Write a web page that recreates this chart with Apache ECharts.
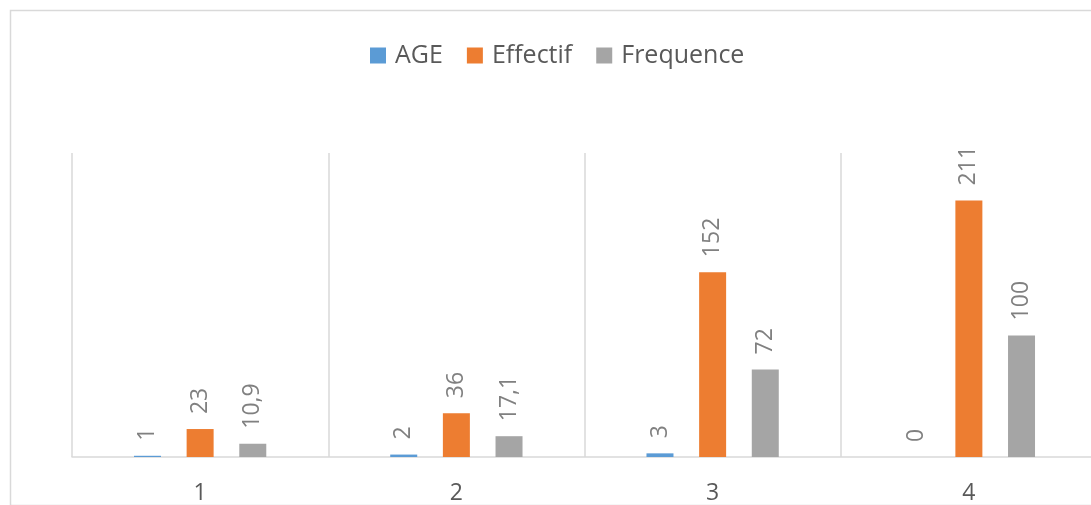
<!DOCTYPE html>
<html>
<head>
<meta charset="utf-8">
<script src="https://cdn.jsdelivr.net/npm/echarts@6/dist/echarts.min.js"></script>
<style>
  html, body { margin: 0; padding: 0; background: #ffffff; }
  #chart { width: 1091px; height: 505px; }
</style>
</head>
<body>
<div id="chart"></div>
<script>
// Categories and series values
const categories = ['1', '2', '3', '4'];
const ageValues = [1, 2, 3, 0];
const effectifValues = [23, 36, 152, 211];
const frequenceValues = [10.9, 17.1, 72, 100];

const FONT = '"Open Sans", "Noto Sans", sans-serif';

// Values are shown with a decimal comma
const fmt = p => String(p.value).replace('.', ',');

const barLabel = {
  show: true,
  position: 'top',
  rotate: 90,
  align: 'left',
  verticalAlign: 'middle',
  distance: 15,
  color: '#808080',
  fontFamily: FONT,
  fontSize: 23,
  formatter: fmt
};

function makeSeries(name, data, color) {
  return {
    name: name,
    type: 'bar',
    data: data,
    barWidth: 27,
    barGap: '95%',
    itemStyle: { color: color },
    label: barLabel,
    emphasis: { disabled: true }
  };
}

const chart = echarts.init(document.getElementById('chart'), null, { renderer: 'canvas' });

chart.setOption({
  animation: false,
  backgroundColor: '#ffffff',
  graphic: [{
    type: 'rect',
    left: 8,
    top: 8,
    shape: { width: 1200, height: 495 },
    style: { fill: 'none', stroke: '#d9d9d9', lineWidth: 1.5 },
    silent: true,
    z: -1
  }],
  legend: {
    top: 38,
    left: 365,
    itemWidth: 16,
    itemHeight: 16,
    itemGap: 24,
    icon: 'rect',
    textStyle: { color: '#595959', fontFamily: FONT, fontSize: 25, padding: [0, 0, 0, 4] },
    data: ['AGE', 'Effectif', 'Frequence']
  },
  // the plot runs a little past the right edge of the canvas
  grid: {
    left: 72, width: 1025, top: 153, bottom: 48,
    containLabel: false,
    outerBoundsMode: 'none'
  },
  xAxis: {
    type: 'category',
    data: categories,
    axisLine: { lineStyle: { color: '#d9d9d9', width: 1.5 } },
    axisTick: { show: false },
    splitLine: { show: true, lineStyle: { color: '#d9d9d9', width: 1.5 } },
    axisLabel: { color: '#595959', fontFamily: FONT, fontSize: 23, margin: 25 }
  },
  yAxis: {
    type: 'value',
    min: 0,
    max: 250,
    show: false,
    splitLine: { show: false }
  },
  series: [
    makeSeries('AGE', ageValues, '#5b9bd5'),
    makeSeries('Effectif', effectifValues, '#ed7d31'),
    makeSeries('Frequence', frequenceValues, '#a5a5a5')
  ]
});
</script>
</body>
</html>
